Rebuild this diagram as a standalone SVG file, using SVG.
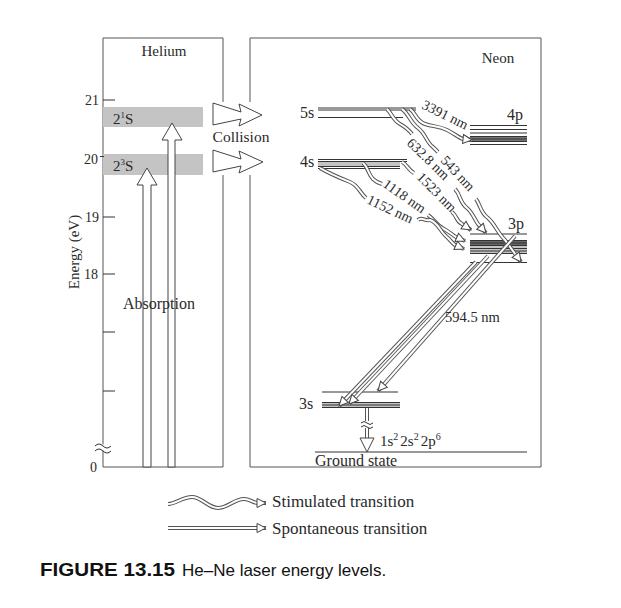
<svg xmlns="http://www.w3.org/2000/svg" width="621" height="608" viewBox="0 0 621 608">
<style>
.t{font-family:"Liberation Serif","Times New Roman",serif;fill:#2a2a2a}
.box{fill:none;stroke:#555;stroke-width:1}
.lv{stroke:#333;stroke-width:1;fill:none}
.band{fill:#c4c4c4}
.o{fill:none;stroke:#555;stroke-width:4}
.i{fill:none;stroke:#fff;stroke-width:2}
.blk{fill:#fff;stroke:#444;stroke-width:1}
</style>
<defs>
<marker id="ah" markerUnits="userSpaceOnUse" markerWidth="12" markerHeight="12" refX="9" refY="0" orient="auto" overflow="visible">
<path d="M0,-4.5 L9,0 L0,4.5 Z" fill="#fff" stroke="#444" stroke-width="1"/>
</marker>
</defs>
<rect width="621" height="608" fill="#fff"/>

<g id="helium">
<path class="box" d="M223,102 V38 H103 V467 H223 V175"/>
<rect class="band" x="103" y="107" width="100" height="20"/>
<rect class="band" x="103" y="154" width="100" height="21"/>
<text class="t" x="164" y="56" font-size="15" text-anchor="middle">Helium</text>
<text class="t" x="113" y="124" font-size="15">2<tspan font-size="9" dy="-6">1</tspan><tspan dy="6">S</tspan></text>
<text class="t" x="113" y="171" font-size="15">2<tspan font-size="9" dy="-6">3</tspan><tspan dy="6">S</tspan></text>
</g>

<g id="axis">
<path class="lv" d="M103,100 H115 M100,156.5 H104 M103,217 H115 M103,274 H115 M103,332 H115 M103,391 H115"/>
<text class="t" x="99" y="105" font-size="14" text-anchor="end">21</text>
<text class="t" x="98" y="164" font-size="14" text-anchor="end">20</text>
<text class="t" x="99" y="222" font-size="14" text-anchor="end">19</text>
<text class="t" x="98" y="279" font-size="14" text-anchor="end">18</text>
<text class="t" x="97" y="472" font-size="14" text-anchor="end">0</text>
<text class="t" font-size="15" text-anchor="middle" transform="translate(79,252) rotate(-90)">Energy (eV)</text>
<rect x="100" y="444.5" width="6" height="6" fill="#fff"/>
<path class="lv" d="M95,446 q4,-4 8,0 t8,0 M95,451 q4,-4 8,0 t8,0"/>
</g>

<g id="absorption">
<polygon class="blk" points="143,467 143,185 137,185 147,168 157,185 151,185 151,467"/>
<polygon class="blk" points="168,467 168,140 162,140 172,123 182,140 175,140 175,467"/>
<text class="t" x="159" y="309" font-size="16" text-anchor="middle">Absorption</text>
</g>

<g id="collision">
<polygon class="blk" points="213,103 241,112 239,104 262,115 239,126 241,119 213,125"/>
<polygon class="blk" points="213,150 241,159 239,151 263,162 239,173 241,166 213,172"/>
<text class="t" x="241" y="142" font-size="15.5" text-anchor="middle">Collision</text>
</g>

<g id="neon">
<path class="box" d="M250,102 V38 H541 V467 H250 V175"/>
<text class="t" x="498" y="63" font-size="15" text-anchor="middle">Neon</text>
</g>

<g id="level-5s">
<path class="lv" d="M318,108 H416 M318,110 H416 M318,117.5 H403"/>
<text class="t" x="300" y="118" font-size="16">5s</text>
</g>
<g id="level-4s">
<rect class="band" x="318" y="162" width="82" height="5"/>
<path class="lv" d="M318,159.5 H407 M318,161.5 H407 M318,166.5 H400 M318,168.5 H400"/>
<text class="t" x="300" y="167" font-size="16">4s</text>
</g>
<g id="level-4p">
<rect x="470" y="136" width="57" height="6" fill="#777"/>
<path class="lv" d="M470,125.5 H527 M470,129.5 H527 M470,133 H527 M470,136.5 H527 M470,139 H527 M470,141.5 H527 M470,144.5 H527"/>
<text class="t" x="507" y="120" font-size="16">4p</text>
</g>
<g id="level-3p">
<rect class="band" x="470" y="240" width="57" height="14"/>
<rect x="470" y="240" width="57" height="6" fill="#666"/>
<path class="lv" d="M470,234 H527 M470,240.5 H527 M470,243 H527 M470,245.5 H527 M470,248.5 H527 M470,251 H527 M470,253.5 H527 M470,262.5 H527"/>
<text class="t" x="508" y="229" font-size="16">3p</text>
</g>
<g id="level-3s">
<rect class="band" x="322" y="402.5" width="78" height="5"/>
<path class="lv" d="M322,392 H398 M322,402.5 H400 M322,405 H400 M322,407.5 H400"/>
<text class="t" x="299" y="409" font-size="16">3s</text>
</g>
<g id="ground">
<path class="lv" d="M315,452 H527"/>
<text class="t" x="315" y="466" font-size="16">Ground state</text>
<text class="t" x="380" y="446" font-size="15">1s<tspan font-size="10" dy="-6">2</tspan><tspan dy="6" dx="2">2s</tspan><tspan font-size="10" dy="-6">2</tspan><tspan dy="6" dx="2">2p</tspan><tspan font-size="10" dy="-6">6</tspan></text>
</g>

<g id="connectors">
<!-- 3391 nm -->
<path class="o" d="M410,109 C416,113 416,121 425,124 C434,127 439,126 447,130 C455,134 459,138 463,139 L472,140"/>
<path class="i" marker-end="url(#ah)" d="M410,109 C416,113 416,121 425,124 C434,127 439,126 447,130 C455,134 459,138 463,139 L472,140"/>
<!-- 632.8 nm -->
<path class="o" d="M387,109 C392,114 393,120 400,124 C407,128 409,130 412,134"/>
<path class="i" d="M387,109 C392,114 393,120 400,124 C407,128 409,130 412,134"/>
<path class="o" d="M455,189 C461,195 459,202 467,208 C472,212 474,218 478,224 L486,233"/>
<path class="i" marker-end="url(#ah)" d="M455,189 C461,195 459,202 467,208 C472,212 474,218 478,224 L486,233"/>
<!-- 543 nm -->
<path class="o" d="M402,109 C409,114 410,122 418,128 C426,134 426,142 433,147 L438,152"/>
<path class="i" d="M402,109 C409,114 410,122 418,128 C426,134 426,142 433,147 L438,152"/>
<path class="o" d="M476,199 C481,206 480,212 488,218 C495,224 497,232 505,240 L521,262"/>
<path class="i" marker-end="url(#ah)" d="M476,199 C481,206 480,212 488,218 C495,224 497,232 505,240 L521,262"/>
<!-- 1523 nm -->
<path class="o" d="M402,162 C407,164 408,170 414,173"/>
<path class="i" d="M402,162 C407,164 408,170 414,173"/>
<path class="o" d="M452,212 C457,216 456,221 462,224 L471,230"/>
<path class="i" marker-end="url(#ah)" d="M452,212 C457,216 456,221 462,224 L471,230"/>
<!-- 1118 nm -->
<path class="o" d="M363,163 C368,167 368,174 373,179 C376,182 379,183 382,184"/>
<path class="i" d="M363,163 C368,167 368,174 373,179 C376,182 379,183 382,184"/>
<path class="o" d="M428,215 C434,219 436,225 444,229 C450,232 452,235 456,237 L465,241"/>
<path class="i" marker-end="url(#ah)" d="M428,215 C434,219 436,225 444,229 C450,232 452,235 456,237 L465,241"/>
<!-- 1152 nm -->
<path class="o" d="M320,168 C330,174 340,178 350,182 C358,185 360,193 366,198"/>
<path class="i" d="M320,168 C330,174 340,178 350,182 C358,185 360,193 366,198"/>
<path class="o" d="M418,220 C422,216 425,222 430,220 C438,222 440,232 448,238 C451,241 452,243 455,245 L464,249"/>
<path class="i" marker-end="url(#ah)" d="M418,220 C422,216 425,222 430,220 C438,222 440,232 448,238 C451,241 452,243 455,245 L464,249"/>
<!-- 594.5 nm spontaneous -->
<path class="o" d="M476,262 L339,406"/>
<path class="i" marker-end="url(#ah)" d="M476,262 L339,406"/>
<path class="o" d="M488,256 L349,404"/>
<path class="i" marker-end="url(#ah)" d="M488,256 L349,404"/>
<path class="o" d="M515,236 L378,391"/>
<path class="i" marker-end="url(#ah)" d="M515,236 L378,391"/>
<!-- 3s to ground -->
<path class="o" d="M367,408 V439"/>
<path class="i" d="M367,408 V439"/>
<rect x="362" y="421" width="10" height="7" fill="#fff"/>
<path class="lv" d="M361,423 q3,-3 6,0 t6,0 M361,427 q3,-3 6,0 t6,0"/>
<polygon class="blk" points="360,438 374,438 367,452"/>
</g>

<g id="labels">
<text class="t" font-size="14" transform="translate(421,108) rotate(26)">3391 nm</text>
<text class="t" font-size="14" transform="translate(406,144) rotate(44)">632.8 nm</text>
<text class="t" font-size="14" transform="translate(440,161) rotate(47)">543 nm</text>
<text class="t" font-size="14" transform="translate(416,178) rotate(45)">1523 nm</text>
<text class="t" font-size="14" transform="translate(382,186) rotate(35)">1118 nm</text>
<text class="t" font-size="14" transform="translate(366,203) rotate(25)">1152 nm</text>
<text class="t" x="445" y="322" font-size="14.5">594.5 nm</text>
</g>

<g id="legend">
<path class="o" d="M168,504 C176,504 182,497 192,497 C202,497 208,508 218,508 C228,508 234,499 244,499 C250,499 253,503 258,503 L266,503"/>
<path class="i" marker-end="url(#ah)" d="M168,504 C176,504 182,497 192,497 C202,497 208,508 218,508 C228,508 234,499 244,499 C250,499 253,503 258,503 L266,503"/>
<text class="t" x="272" y="507" font-size="17">Stimulated transition</text>
<path class="o" d="M168,528 L266,528"/>
<path class="i" marker-end="url(#ah)" d="M168,528 L266,528"/>
<text class="t" x="272" y="534" font-size="17">Spontaneous transition</text>
</g>

<g id="caption">
<text x="40" y="576" font-family="Liberation Sans, Arial, sans-serif" font-weight="bold" font-size="18" fill="#111" textLength="135" lengthAdjust="spacingAndGlyphs">FIGURE 13.15</text>
<text x="182" y="576" font-family="Liberation Sans, Arial, sans-serif" font-size="17" fill="#111">He–Ne laser energy levels.</text>
</g>
</svg>
